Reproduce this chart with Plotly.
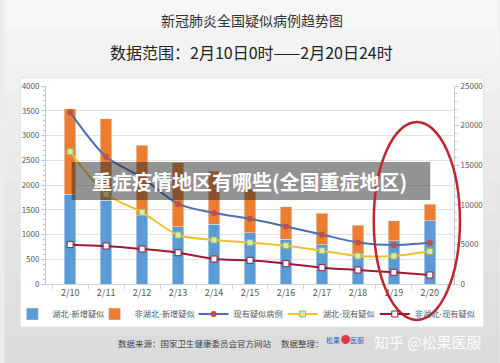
import plotly.graph_objects as go

dates = ["2/10", "2/11", "2/12", "2/13", "2/14", "2/15", "2/16", "2/17", "2/18", "2/19", "2/20"]
hubei_new = [1812, 1697, 1374, 1158, 1212, 1037, 903, 795, 606, 875, 1279]
total_new = [3536, 3342, 2807, 2450, 2277, 1918, 1563, 1432, 1185, 1277, 1614]
nonhubei_new = [t - h for t, h in zip(total_new, hubei_new)]
existing_total = [21675, 16067, 13435, 10109, 8969, 8228, 7264, 6242, 5248, 4922, 5206]
existing_hubei = [16705, 11326, 9053, 6187, 5556, 5215, 4836, 4205, 3535, 3535, 4129]
existing_nonhubei = [4970, 4798, 4419, 3952, 3157, 2988, 2567, 2062, 1768, 1477, 1136]

W, H = 500, 363
ML, MR, MT, MB = 42, 46, 86, 79
PW, PH = W - ML - MR, H - MT - MB


def px(x):
    return (x - ML) / PW


def py(y):
    return (H - MB - y) / PH


fig = go.Figure()
fig.add_trace(go.Bar(x=dates, y=hubei_new, name="湖北-新增疑似", marker_color="#5B9BD5",
                     width=0.32, yaxis="y", legend="legend"))
fig.add_trace(go.Bar(x=dates, y=nonhubei_new, name="非湖北-新增疑似", marker_color="#ED7D31",
                     width=0.32, yaxis="y", legend="legend2"))
fig.add_trace(go.Scatter(x=dates, y=existing_total, name="现有疑似病例", yaxis="y2", legend="legend3",
                         mode="lines+markers", line=dict(color="#4A6FB0", width=2, shape="spline", smoothing=0.8),
                         marker=dict(color="#C0504D", size=6)))
fig.add_trace(go.Scatter(x=dates, y=existing_hubei, name="湖北-现有疑似", yaxis="y2", legend="legend4",
                         mode="lines+markers", line=dict(color="#F2C12E", width=2, shape="spline", smoothing=0.8),
                         marker=dict(color="#DDE8B0", size=6, symbol="square",
                                     line=dict(color="#9BBB59", width=1))))
fig.add_trace(go.Scatter(x=dates, y=existing_nonhubei, name="非湖北-现有疑似", yaxis="y2", legend="legend5",
                         mode="lines+markers", line=dict(color="#9E1B32", width=2, shape="spline", smoothing=0.8),
                         marker=dict(color="white", size=6, symbol="square",
                                     line=dict(color="#9E1B32", width=1))))

shapes = []
# gray gradient page background
n = 12
for i in range(n):
    g = int(246 - (246 - 220) * i / (n - 1))
    shapes.append(dict(type="rect", xref="paper", yref="paper", layer="below",
                       x0=px(0), x1=px(W), y0=py(H * (i + 1) / n), y1=py(H * i / n),
                       fillcolor=f"rgb({g},{g},{g})", line=dict(width=0)))
# white chart box
shapes.append(dict(type="rect", xref="paper", yref="paper", layer="below",
                   x0=px(16), x1=px(484), y0=py(327), y1=py(78),
                   fillcolor="white", line=dict(color="#e4e4e4", width=1)))
# overlay band
shapes.append(dict(type="rect", xref="paper", yref="paper", layer="above",
                   x0=px(68), x1=px(430), y0=py(200), y1=py(162),
                   fillcolor="rgba(40,40,40,0.5)", line=dict(width=0)))
# red ellipse
shapes.append(dict(type="circle", xref="paper", yref="paper", layer="above",
                   x0=px(373), x1=px(460), y0=py(320), y1=py(122),
                   line=dict(color="#C0262D", width=2.5)))
# logo pot
shapes.append(dict(type="circle", xref="paper", yref="paper", layer="above",
                   x0=px(340), x1=px(349), y0=py(344), y1=py(335),
                   fillcolor="#E0394A", line=dict(width=0)))


def ann(text, x, y, size, color, **kw):
    return dict(text=text, x=px(x), y=py(y), xref="paper", yref="paper", showarrow=False,
                xanchor="center", yanchor="middle",
                font=dict(size=size, color=color, family="Noto Sans CJK SC"), **kw)


annotations = [
    ann("新冠肺炎全国疑似病例趋势图", 250, 20, 14, "#333333"),
    ann("数据范围：2月10日0时——2月20日24时", 250, 52, 16, "#222222"),
    ann("<b>重症疫情地区有哪些(全国重症地区)</b>", 247, 181, 20, "white"),
    ann("数据来源：国家卫生健康委员会官方网站", 192, 343, 8.5, "#444444"),
    ann("数据整理：", 301, 343, 8.5, "#444444"),
    ann("松果", 332, 340, 7, "#3A64A8"),
    ann("医服", 356, 340, 7, "#3A64A8"),
    ann("知乎 @松果医服", 428, 341, 15, "rgba(255,255,255,0.95)"),
]

legend_starts = [8, 91, 191, 281, 374]
legend_common = dict(orientation="h", xanchor="left", y=py(314), yanchor="middle",
                     font=dict(size=8.2, color="#595959"), bgcolor="rgba(0,0,0,0)",
                     itemwidth=30, borderwidth=0)
legends = {}
for i, s in enumerate(legend_starts):
    key = "legend" if i == 0 else f"legend{i + 1}"
    legends[key] = dict(legend_common, x=px(s))

fig.update_layout(
    width=W, height=H, autosize=False,
    margin=dict(l=ML, r=MR, t=MT, b=MB, pad=0),
    paper_bgcolor="#ececec", plot_bgcolor="rgba(0,0,0,0)",
    barmode="stack", bargap=0.68,
    font=dict(family="Noto Sans CJK SC", size=9, color="#595959"),
    showlegend=True,
    xaxis=dict(type="category", showline=True, linecolor="#d0d0d0", ticks="outside",
               tickson="boundaries", ticklen=4, tickcolor="#d0d0d0", showgrid=False,
               tickfont=dict(size=9, color="#595959")),
    yaxis=dict(range=[0, 4000], dtick=500, showgrid=True, gridcolor="#e3e3e3", gridwidth=1,
               showline=True, linecolor="#b8cbd8", ticks="outside", ticklen=4, tickcolor="#b8cbd8",
               minor=dict(ticks="outside", ticklen=2, dtick=100, tickcolor="#b8cbd8"),
               tickfont=dict(size=8, color="#595959"), zeroline=False, tickformat="d"),
    yaxis2=dict(range=[0, 25000], dtick=5000, overlaying="y", side="right", showgrid=False,
                showline=True, linecolor="#b8cbd8", ticks="outside", ticklen=4, tickcolor="#b8cbd8",
                minor=dict(ticks="outside", ticklen=2, dtick=1000, tickcolor="#b8cbd8"),
                tickfont=dict(size=8, color="#595959"), zeroline=False, tickformat="d"),
    shapes=shapes,
    annotations=annotations,
    **legends,
)

fig.write_html("out.html", include_plotlyjs=True, full_html=True,
               default_width=W, default_height=H,
               config={"displayModeBar": False},
               post_script="document.body.style.margin='0';")
